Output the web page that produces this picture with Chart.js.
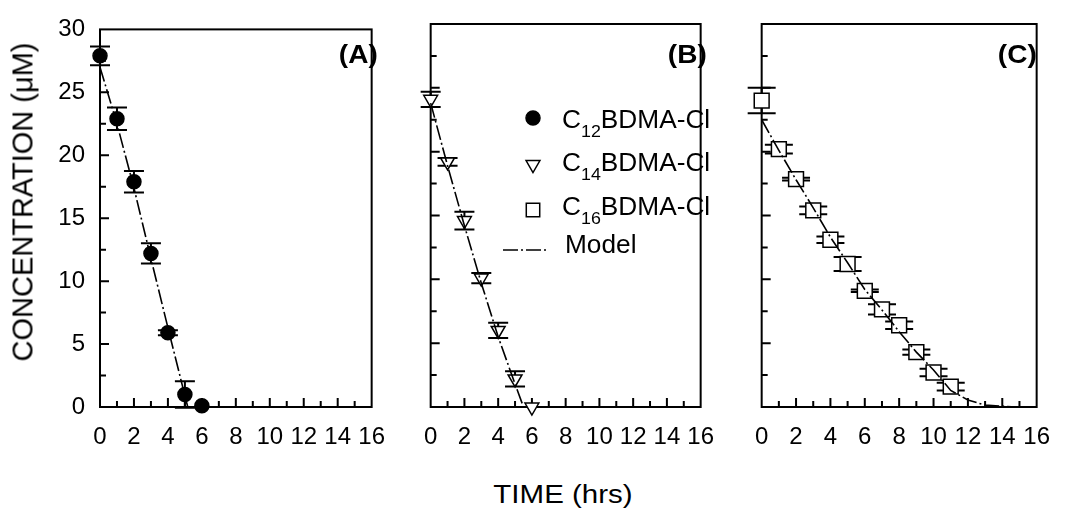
<!DOCTYPE html>
<html>
<head>
<meta charset="utf-8">
<script src="https://cdn.jsdelivr.net/npm/chart.js@4.4.1/dist/chart.umd.min.js"></script>
<style>
  body { margin: 0; background: #fff; width: 1066px; height: 513px; position: relative; overflow: hidden;
         font-family: "Liberation Sans", Arial, sans-serif; color: #000; }
  canvas { position: absolute; top: 0; }
  .txt { position: absolute; white-space: nowrap; line-height: 1; }
  .leg { font-size: 25px; transform: scaleX(1.05); transform-origin: left center; }
  .leg sub { font-size: 17px; vertical-align: -9px; line-height: 0; }
  .tag { font-size: 25px; font-weight: bold; transform: scaleX(1.12); transform-origin: right center; }
</style>
</head>
<body>
<canvas id="panelA" width="401" height="460" style="left:0"></canvas>
<canvas id="panelB" width="322" height="460" style="left:408px"></canvas>
<canvas id="panelC" width="327" height="460" style="left:739px"></canvas>

<div class="txt tag" style="right:688px;top:42px">(A)</div>
<div class="txt tag" style="right:359px;top:42px">(B)</div>
<div class="txt tag" style="right:29px;top:42px">(C)</div>

<div class="txt leg" style="left:562px;top:107px">C<sub>12</sub>BDMA-Cl</div>
<div class="txt leg" style="left:562px;top:150px">C<sub>14</sub>BDMA-Cl</div>
<div class="txt leg" style="left:562px;top:194px">C<sub>16</sub>BDMA-Cl</div>
<div class="txt leg" style="left:565px;top:232px">Model</div>

<div class="txt" style="left:563px;top:482px;font-size:25px;transform:translateX(-50%) scaleX(1.18)">TIME (hrs)</div>
<div class="txt" style="left:23px;top:202px;font-size:29px;transform:translate(-50%,-50%) rotate(-90deg)">CONCENTRATION (&mu;M)</div>

<script>
// measured points (hrs, uM) with +/- error
const timeA = [0, 1, 2, 3, 4, 5, 6];
const concA = [27.9, 22.9, 17.9, 12.2, 5.9, 1.0, 0.1];
const errA = [0.75, 0.9, 0.85, 0.8, 0.2, 1.05, 0];

const timeB = [0, 1, 2, 3, 4, 5, 6];
const concB = [24.1, 19.2, 14.6, 10.1, 6.0, 2.2, 0.0];
const errB = [0.6, 0.3, 0.7, 0.4, 0.6, 0.6, 0];

const timeC = [0, 1, 2, 3, 4, 5, 6, 7, 8, 9, 10, 11];
const concC = [24.0, 20.2, 17.85, 15.4, 13.1, 11.2, 9.1, 7.65, 6.4, 4.3, 2.7, 1.6];
const errC = [1.0, 0.35, 0.1, 0.3, 0.25, 0.55, 0.1, 0.4, 0.3, 0.2, 0.3, 0.3];

// model curves
const modelTimeA = [0, 1, 2, 3, 4, 5, 5.17];
const modelA = [27.0, 22.5, 17.4, 11.8, 6.3, 0.9, 0];
const modelTimeB = [0, 1, 2, 3, 4, 5, 5.5];
const modelB = [23.8, 18.9, 14.2, 9.7, 5.5, 1.8, 0];
const modelTimeC = [0, 1, 2, 3, 4, 5, 6, 7, 8, 9, 10, 11, 12, 13, 14.8];
const modelC = [22.5, 20.1, 17.8, 15.6, 13.3, 11.3, 9.2, 7.6, 5.9, 4.3, 2.9, 1.3, 0.55, 0.15, 0];

const FONT = '"Liberation Sans", Arial, sans-serif';
const DASH = [15, 3, 2, 3];

function pairs(xs, ys) {
  return xs.map((x, i) => ({ x: x, y: ys[i] }));
}

// box round the plot and inward ticks on the bottom and left sides
const frame = {
  id: 'frame',
  beforeDatasetsDraw(chart) {
    const ctx = chart.ctx, a = chart.chartArea;
    const x = chart.scales.x, y = chart.scales.y;
    ctx.save();
    ctx.strokeStyle = '#000';
    ctx.lineWidth = 2;
    ctx.strokeRect(a.left, a.top, a.right - a.left, a.bottom - a.top);
    ctx.beginPath();
    for (let v = 1; v < 16; v++) {
      const px = x.getPixelForValue(v);
      ctx.moveTo(px, a.bottom);
      ctx.lineTo(px, a.bottom - (v % 2 === 0 ? 9 : 6));
    }
    for (let v = 2.5; v < 30; v += 2.5) {
      const py = y.getPixelForValue(v);
      ctx.moveTo(a.left, py);
      ctx.lineTo(a.left + (v % 5 === 0 ? 9 : 6), py);
    }
    ctx.stroke();
    ctx.restore();
  }
};

const errorBars = {
  id: 'errorBars',
  beforeDatasetsDraw(chart, args, opts) {
    const ctx = chart.ctx;
    const x = chart.scales.x, y = chart.scales.y;
    const pts = chart.data.datasets[1].data;
    ctx.save();
    ctx.strokeStyle = '#000';
    ctx.lineWidth = 2;
    ctx.beginPath();
    pts.forEach((p, i) => {
      const e = opts.values[i];
      if (!e) return;
      const px = x.getPixelForValue(p.x);
      const top = y.getPixelForValue(p.y + e);
      const bot = y.getPixelForValue(p.y - e);
      ctx.moveTo(px, top); ctx.lineTo(px, bot);
      ctx.moveTo(px - opts.cap, top); ctx.lineTo(px + opts.cap, top);
      ctx.moveTo(px - opts.cap, bot); ctx.lineTo(px + opts.cap, bot);
    });
    ctx.stroke();
    ctx.restore();
  }
};

// legend symbols in panel B (text is html)
const legendMarks = {
  id: 'legendMarks',
  afterDraw(chart, args, opts) {
    if (!opts.show) return;
    const ctx = chart.ctx;
    const cx = 125;
    ctx.save();
    ctx.strokeStyle = '#000';
    ctx.lineWidth = 1.5;
    ctx.fillStyle = '#000';
    Chart.helpers.drawPoint(ctx, { pointStyle: 'circle', radius: 7, borderWidth: 1.5 }, cx, 118);
    ctx.fillStyle = '#fff';
    Chart.helpers.drawPoint(ctx, { pointStyle: 'triangle', radius: 8, rotation: 180, borderWidth: 1.5 }, cx, 164.5);
    Chart.helpers.drawPoint(ctx, { pointStyle: 'rect', radius: 9.5, borderWidth: 1.5 }, cx, 210);
    ctx.setLineDash(DASH);
    ctx.beginPath();
    ctx.moveTo(95, 250);
    ctx.lineTo(141, 250);
    ctx.stroke();
    ctx.restore();
  }
};

Chart.register(frame, errorBars, legendMarks);

function makePanel(id, o) {
  return new Chart(document.getElementById(id), {
    type: 'scatter',
    data: {
      datasets: [
        {
          type: 'line',
          data: pairs(o.modelT, o.model),
          borderColor: '#000',
          borderWidth: 1.6,
          borderDash: DASH,
          pointRadius: 0,
          fill: false,
          tension: 0,
          clip: false
        },
        {
          data: pairs(o.t, o.c),
          pointStyle: o.style,
          pointRadius: o.radius,
          pointRotation: o.rotation || 0,
          backgroundColor: o.fill,
          borderColor: '#000',
          borderWidth: 1.5,
          clip: false
        }
      ]
    },
    options: {
      responsive: false,
      animation: false,
      events: [],
      layout: { padding: { top: 24, left: o.padL, right: o.padR, bottom: 0 } },
      plugins: {
        legend: { display: false },
        tooltip: { enabled: false },
        errorBars: { values: o.err, cap: o.cap },
        legendMarks: { show: !!o.legend }
      },
      scales: {
        x: {
          type: 'linear',
          min: 0,
          max: 16,
          afterFit: s => { s.height = 53; },
          ticks: { stepSize: 2, color: '#000', padding: 16, maxRotation: 0, autoSkip: false,
                   font: { size: 24, family: FONT } },
          grid: { display: false, drawTicks: false },
          border: { display: false }
        },
        y: {
          min: 0,
          max: 30,
          display: o.showY,
          afterFit: s => { if (o.showY) s.width = 100; },
          ticks: { stepSize: 5, color: '#000', padding: 15, font: { size: 24, family: FONT } },
          grid: { display: false, drawTicks: false },
          border: { display: false }
        }
      }
    }
  });
}

makePanel('panelA', { t: timeA, c: concA, err: errA, modelT: modelTimeA, model: modelA,
  style: 'circle', radius: 7, fill: '#000', cap: 10, showY: true, padL: 0, padR: 13 });
makePanel('panelB', { t: timeB, c: concB, err: errB, modelT: modelTimeB, model: modelB,
  style: 'triangle', radius: 8, rotation: 180, fill: '#fff', cap: 10, showY: false, padL: 20, padR: 13, legend: true });
makePanel('panelC', { t: timeC, c: concC, err: errC, modelT: modelTimeC, model: modelC,
  style: 'rect', radius: 10.5, fill: '#fff', cap: 14, showY: false, padL: 20, padR: 19 });
</script>
</body>
</html>
